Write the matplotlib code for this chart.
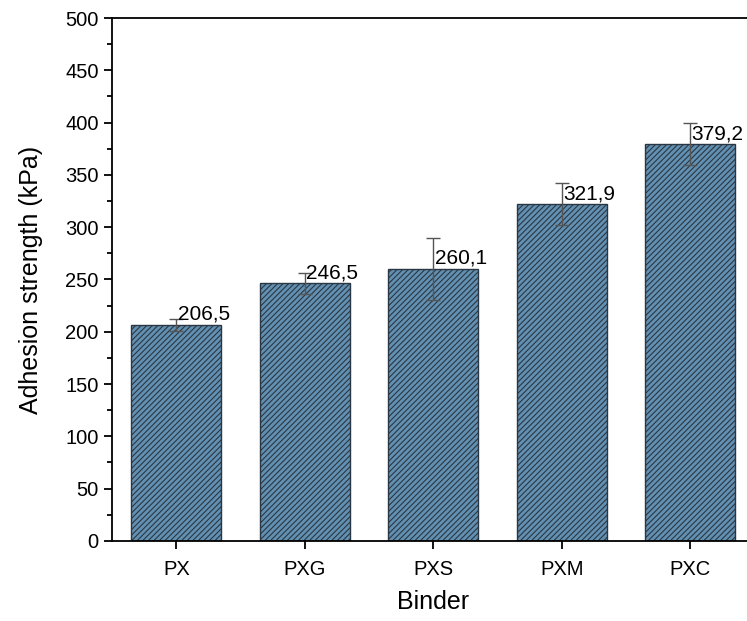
import numpy as np
import matplotlib.pyplot as plt
from matplotlib.ticker import MultipleLocator

plt.rcParams['font.family'] = ['Liberation Sans', 'DejaVu Sans']
plt.rcParams['hatch.linewidth'] = 0.8

binders = ['PX', 'PXG', 'PXS', 'PXM', 'PXC']
strength = [206.5, 246.5, 260.1, 321.9, 379.2]
errors = [5.5, 10, 29.7, 20, 20]
labels = ['206,5', '246,5', '260,1', '321,9', '379,2']

fig = plt.figure(figsize=(7.47, 6.21), dpi=100)
ax = fig.add_axes([0.15, 0.129, 0.86, 0.842])

x = np.arange(1, len(binders) + 1)
ax.bar(x, strength, width=0.7, color='#6290b2', edgecolor='#2a3642',
       linewidth=1.0, hatch='//////', zorder=2)
ax.errorbar(x, strength, yerr=errors, fmt='none', ecolor='#555555',
            elinewidth=1.0, capsize=5, capthick=1.0, zorder=3)

# 값 표시
for xi, v, t in zip(x, strength, labels):
    ax.text(xi + 0.01, v + 1, t, ha='left', va='bottom', fontsize=15, zorder=4)

ax.set_xlim(0.5, 5.5)
ax.set_ylim(0, 500)
ax.set_xticks(x)
ax.set_xticklabels(binders)
ax.yaxis.set_major_locator(MultipleLocator(50))
ax.yaxis.set_minor_locator(MultipleLocator(25))
ax.tick_params(axis='both', which='major', direction='out', length=6, width=1.3,
               labelsize=14.5)
ax.tick_params(axis='x', which='major', pad=8)
ax.tick_params(axis='y', which='minor', direction='out', length=3.5, width=1.3)
for s in ax.spines.values():
    s.set_linewidth(1.3)

ax.set_xlabel('Binder', fontsize=18, labelpad=8)
ax.set_ylabel('Adhesion strength (kPa)', fontsize=18, labelpad=16)

fig.savefig('out.png', dpi=100)
